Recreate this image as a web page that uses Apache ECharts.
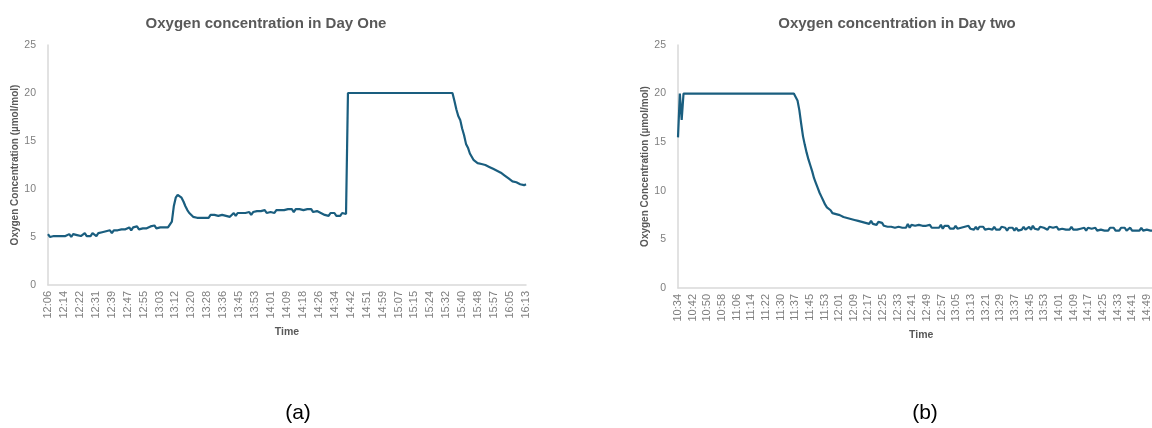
<!DOCTYPE html>
<html>
<head>
<meta charset="utf-8">
<script src="https://cdn.jsdelivr.net/npm/echarts@6/dist/echarts.min.js"></script>
<style>
  html, body { margin: 0; padding: 0; background: #ffffff; overflow: hidden; }
  /* the Day two plot runs past the right edge of the page */
  #chart { width: 1200px; height: 428px; }
</style>
</head>
<body>
<div id="chart"></div>
<script>
// Day one: one reading per minute starting 12:06
const dayOneTicks = ['12:06','12:14','12:22','12:31','12:39','12:47','12:55','13:03','13:12','13:20',
  '13:28','13:36','13:45','13:53','14:01','14:09','14:18','14:26','14:34','14:42',
  '14:51','14:59','15:07','15:15','15:24','15:32','15:40','15:48','15:57','16:05','16:13'];
const dayOneO2 = [
  5.3, 5.0, 5.2, 5.1, 4.9, 5.1, 4.9, 5.1, 4.9, 5.1,
  5.0, 5.3, 5.0, 5.3, 5.1, 5.2, 5.3, 5.1, 5.2, 5.4,
  5.1, 5.3, 5.1, 5.4, 5.2, 5.1, 5.4, 5.3, 5.5, 5.3,
  5.6, 5.4, 5.7, 5.4, 5.7, 5.5, 5.7, 5.6, 5.8, 5.6,
  5.8, 5.7, 6.0, 5.7, 6.0, 5.8, 6.1, 5.8, 6.0, 5.9,
  6.1, 5.9, 5.8, 6.1, 5.9, 6.2, 5.9, 6.1, 6.0, 6.2,
  6.0, 6.2, 6.0, 6.2, 6.6, 8.2, 9.1, 9.4, 9.3, 9.1,
  8.7, 8.2, 7.8, 7.5, 7.3, 7.1, 7.2, 7.0, 7.2, 7.0,
  7.2, 7.0, 7.2, 7.0, 7.3, 7.1, 7.3, 7.1, 7.2, 7.4,
  7.3, 7.4, 7.2, 7.0, 7.1, 7.3, 7.5, 7.2, 7.5, 7.3,
  7.5, 7.3, 7.5, 7.4, 7.6, 7.3, 7.6, 7.4, 7.7, 7.5,
  7.7, 7.5, 7.8, 7.5, 7.7, 7.6, 7.8, 7.5, 7.8, 7.6,
  7.8, 7.6, 7.8, 7.6, 7.9, 7.7, 7.9, 7.6, 7.9, 7.7,
  7.9, 7.7, 7.8, 7.6, 7.9, 7.7, 7.9, 7.6, 7.8, 7.7,
  7.8, 7.5, 7.6, 7.3, 7.5, 7.2, 7.5, 7.3, 7.5, 7.2,
  7.4, 7.2, 7.5, 7.3, 7.4,
  20, 20, 20, 20, 20, 20, 20, 20, 20, 20,
  20, 20, 20, 20, 20, 20, 20, 20, 20, 20,
  20, 20, 20, 20, 20, 20, 20, 20, 20, 20,
  20, 20, 20, 20, 20, 20, 20, 20, 20, 20,
  20, 20, 20, 20, 20, 20, 20, 20, 20, 20,
  20, 20, 20, 20, 20,
  19.2, 18.3, 17.6, 17.2, 16.3, 15.6, 14.7, 14.3, 13.7, 13.5,
  13.0, 13.0, 12.7, 12.9, 12.6, 12.7, 12.5, 12.6, 12.3, 12.4,
  12.1, 12.2, 11.9, 12.0, 11.7, 11.7, 11.4, 11.4, 11.1, 11.1,
  10.8, 10.9, 10.7, 10.8, 10.5, 10.6, 10.4, 10.5
];

// Day two: one reading per minute starting 10:34
const dayTwoTicks = ['10:34','10:42','10:50','10:58','11:06','11:14','11:22','11:30','11:37','11:45',
  '11:53','12:01','12:09','12:17','12:25','12:33','12:41','12:49','12:57','13:05',
  '13:13','13:21','13:29','13:37','13:45','13:53','14:01','14:09','14:17','14:25',
  '14:33','14:41','14:49'];
const dayTwoO2 = [
  15.5, 20, 17.3, 20, 20, 20, 20, 20, 20, 20,
  20, 20, 20, 20, 20, 20, 20, 20, 20, 20,
  20, 20, 20, 20, 20, 20, 20, 20, 20, 20,
  20, 20, 20, 20, 20, 20, 20, 20, 20, 20,
  20, 20, 20, 20, 20, 20, 20, 20, 20, 20,
  20, 20, 20, 20, 20, 20, 20, 20, 20, 20,
  20, 20, 20, 20, 20, 19.3, 18.3, 16.9, 15.6, 14.7,
  13.9, 13.2, 12.6, 12.0, 11.3, 10.8, 10.3, 9.8, 9.4, 9.0,
  8.6, 8.3, 8.1, 8.0, 7.7, 7.9, 7.6, 7.7, 7.5, 7.6,
  7.3, 7.5, 7.2, 7.3, 7.1, 7.3, 7.0, 7.1, 6.9, 7.0,
  6.8, 7.0, 6.7, 6.9, 6.6, 6.9, 6.6, 6.8, 6.5, 6.8,
  6.6, 6.7, 6.4, 6.6, 6.3, 6.5, 6.3, 6.5, 6.2, 6.4,
  6.3, 6.5, 6.2, 6.4, 6.2, 6.6, 6.2, 6.5, 6.3, 6.4,
  6.2, 6.5, 6.3, 6.4, 6.2, 6.4, 6.2, 6.5, 6.2, 6.4,
  6.2, 6.4, 6.2, 6.5, 6.1, 6.4, 6.2, 6.4, 6.1, 6.3,
  6.1, 6.4, 6.1, 6.3, 6.2, 6.0, 6.3, 6.1, 6.4, 6.1,
  6.2, 6.0, 6.3, 6.0, 6.3, 6.1, 6.3, 6.0, 6.2, 6.1,
  6.3, 6.0, 6.3, 6.0, 6.2, 6.0, 6.3, 6.1, 6.2, 5.9,
  6.2, 6.0, 6.2, 5.9, 6.2, 5.9, 6.1, 6.0, 6.3, 6.0,
  6.1, 6.3, 6.0, 6.4, 6.1, 6.3, 6.0, 6.3, 6.1, 6.2,
  6.3, 6.0, 6.3, 6.1, 6.2, 6.0, 6.3, 6.0, 6.2, 6.1,
  6.3, 6.0, 6.2, 6.0, 6.3, 6.0, 6.2, 6.0, 6.2, 6.1,
  6.0, 6.2, 5.9, 6.2, 6.0, 6.1, 5.9, 6.2, 5.9, 6.1,
  6.0, 6.2, 5.9, 6.1, 5.9, 6.2, 6.0, 6.2, 5.9, 6.1,
  5.9, 6.2, 6.0, 6.2, 5.9, 6.0, 6.2, 5.9, 6.1, 5.9,
  6.1, 5.9, 6.2, 5.9, 6.1, 6.0, 6.2, 5.9, 6.1, 5.9,
  6.1, 5.9, 6.1
];

const yMax = 25;
const yStep = 5;
const titles = ['Oxygen concentration in Day One', 'Oxygen concentration in Day two'];
const panelLabels = ['(a)', '(b)'];

function toMinutes(hhmm) {
  const [h, m] = hhmm.split(':').map(Number);
  return h * 60 + m;
}

// x is measured in "label steps": label k sits at x = k
function minutesPerStep(ticks) {
  return (toMinutes(ticks[ticks.length - 1]) - toMinutes(ticks[0])) / (ticks.length - 1);
}
const stepA = minutesPerStep(dayOneTicks);
const stepB = minutesPerStep(dayTwoTicks);
const seriesA = dayOneO2.map((v, i) => [i / stepA, v]);
const seriesB = dayTwoO2.map((v, i) => [i / stepB, v]);

const LINE = '#1a5e7f';
const AXIS = '#d9d9d9';
const TICK_TEXT = '#7f7f7f';
const NAME_TEXT = '#595959';
const FONT = '"Liberation Sans", Arial, sans-serif';
const B_STEPS = 33.2;      // Day two axis continues past the page edge
const B_STEP_PX = 14.65;

function xAxisFor(gridIndex, ticks, maxStep) {
  return {
    type: 'value', gridIndex, min: 0, max: maxStep, interval: 1,
    name: 'Time', nameLocation: 'middle', nameGap: 41,
    nameTextStyle: { color: NAME_TEXT, fontWeight: 'bold', fontSize: 10.5, fontFamily: FONT },
    axisLine: { show: true, lineStyle: { color: AXIS, width: 1.5 } },
    axisTick: { show: false },
    splitLine: { show: false },
    axisLabel: {
      rotate: 90, margin: 6, color: TICK_TEXT, fontSize: 11, fontFamily: FONT,
      showMaxLabel: false,
      formatter: v => ticks[Math.round(v)] ?? ''
    }
  };
}

function yAxisFor(gridIndex) {
  return {
    type: 'value', gridIndex, min: 0, max: yMax, interval: yStep,
    name: 'Oxygen Concentration (µmol/mol)', nameLocation: 'middle', nameGap: 28,
    nameTextStyle: { color: NAME_TEXT, fontWeight: 'bold', fontSize: 10, fontFamily: FONT },
    axisLine: { show: true, lineStyle: { color: AXIS, width: 1.5 } },
    axisTick: { show: false },
    splitLine: { show: false },
    axisLabel: { margin: 12, color: TICK_TEXT, fontSize: 10.5, fontFamily: FONT }
  };
}

function textItem(x, y, text, opts) {
  return {
    type: 'text', x, y,
    style: Object.assign({ text, align: 'center', verticalAlign: 'middle', fontFamily: FONT }, opts)
  };
}

const xA = xAxisFor(0, dayOneTicks, dayOneTicks.length - 1);
xA.axisLabel.showMaxLabel = true;

const chart = echarts.init(document.getElementById('chart'), null, { renderer: 'canvas' });
chart.setOption({
  animation: false,
  backgroundColor: '#ffffff',
  grid: [
    { left: 48, top: 45, width: 478, height: 240 },
    { left: 678, top: 45, width: B_STEPS * B_STEP_PX, height: 243 }
  ],
  xAxis: [xA, xAxisFor(1, dayTwoTicks, B_STEPS)],
  yAxis: [yAxisFor(0), yAxisFor(1)],
  series: [
    { type: 'line', xAxisIndex: 0, yAxisIndex: 0, data: seriesA, showSymbol: false,
      lineStyle: { color: LINE, width: 2.2 }, itemStyle: { color: LINE } },
    { type: 'line', xAxisIndex: 1, yAxisIndex: 1, data: seriesB, showSymbol: false,
      lineStyle: { color: LINE, width: 2.2 }, itemStyle: { color: LINE } }
  ],
  graphic: [
    textItem(266, 24, titles[0], { fontSize: 15, fontWeight: 'bold', fill: NAME_TEXT }),
    textItem(897, 24, titles[1], { fontSize: 15, fontWeight: 'bold', fill: NAME_TEXT }),
    textItem(298, 413, panelLabels[0], { fontSize: 21, fill: '#000000' }),
    textItem(925, 413, panelLabels[1], { fontSize: 21, fill: '#000000' })
  ]
});
</script>
</body>
</html>
